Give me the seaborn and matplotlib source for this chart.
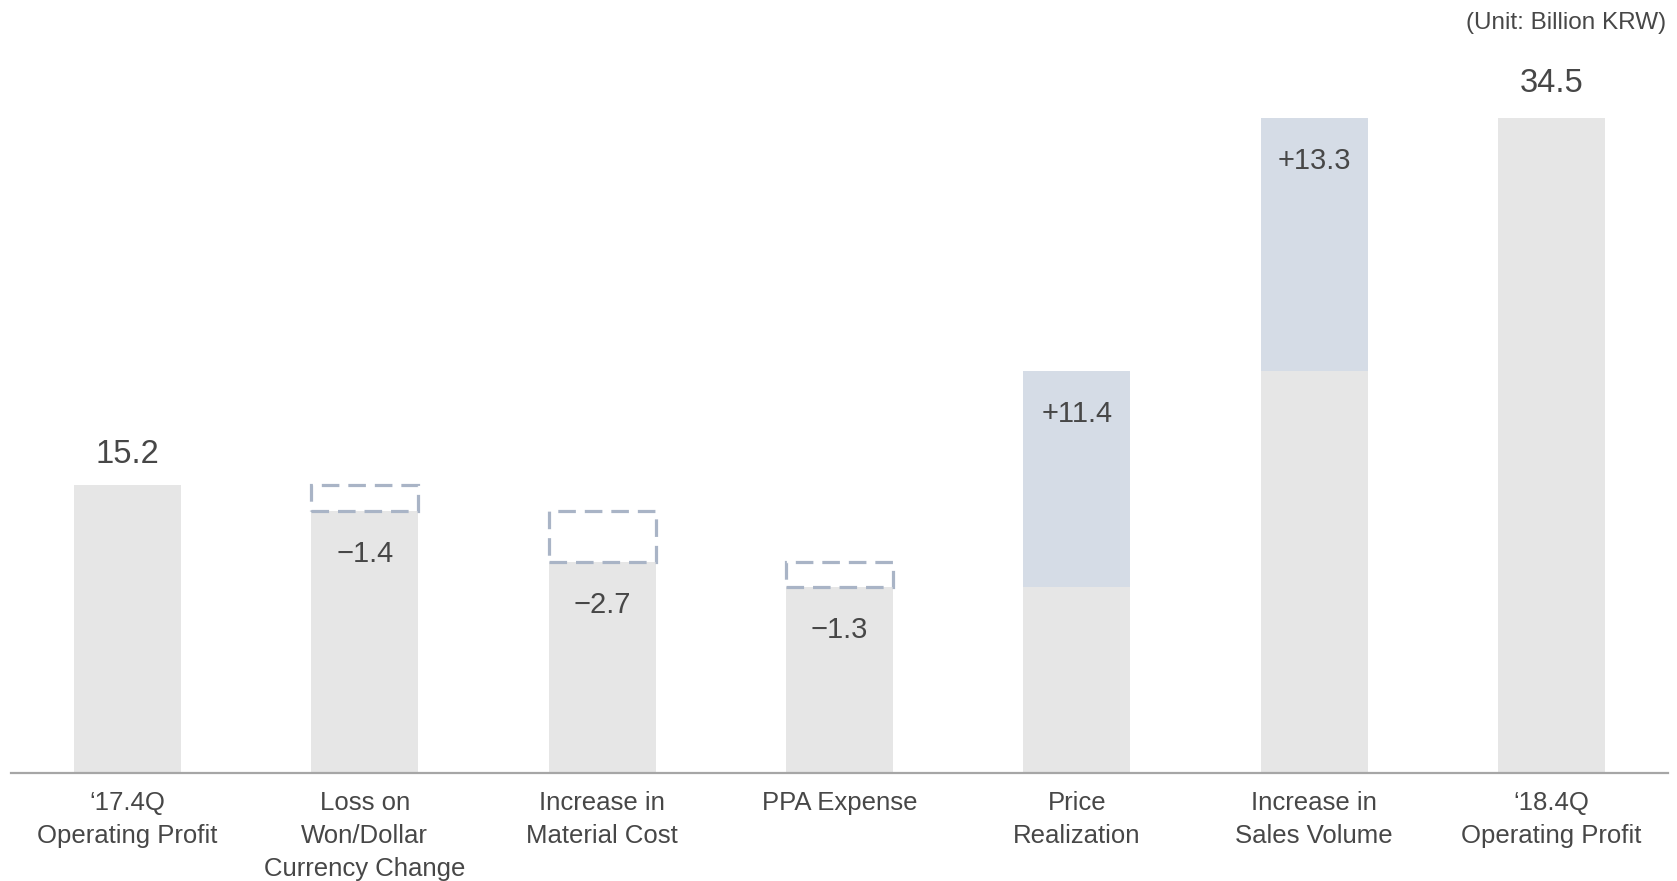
import matplotlib
matplotlib.use("Agg")
import matplotlib.pyplot as plt
import seaborn as sns
import numpy as np

# ---- data ----
start_label = "‘17.4Q\nOperating Profit"
start_value = 15.2
step_labels = [
    "Loss on\nWon/Dollar\nCurrency Change",
    "Increase in\nMaterial Cost",
    "PPA Expense",
    "Price\nRealization",
    "Increase in\nSales Volume",
]
step_changes = [-1.4, -2.7, -1.3, 11.4, 13.3]
end_label = "‘18.4Q\nOperating Profit"
end_value = 34.5
unit_text = "(Unit: Billion KRW)"

# ---- styling ----
GREY = "#E6E6E6"
BLUE = "#D5DCE6"
DASH = "#A9B4C6"
TEXT = "#474747"
AXIS = "#A6A6A6"
BAR_W = 0.45

sns.set_theme(style="white")
plt.rcParams["font.family"] = ["Liberation Sans", "DejaVu Sans"]

# ---- waterfall geometry from the data ----
categories = [start_label] + step_labels + [end_label]
base_heights = [start_value]
seg_bottoms, seg_heights, seg_pos, seg_neg_mask = [], [], [], []
level = start_value
for i, d in enumerate(step_changes, start=1):
    new_level = level + d
    base_heights.append(min(level, new_level))
    seg_bottoms.append(min(level, new_level))
    seg_heights.append(abs(d))
    seg_pos.append(i)
    seg_neg_mask.append(d < 0)
    level = new_level
base_heights.append(end_value)

seg_bottoms = np.array(seg_bottoms)
seg_heights = np.array(seg_heights)
seg_pos = np.array(seg_pos)
seg_neg_mask = np.array(seg_neg_mask)

fig = plt.figure(figsize=(16.77, 8.81), dpi=100)
ax = fig.add_axes([11 / 1677, 108 / 881, 1657 / 1677, 759 / 881])

# grey base columns
sns.barplot(x=list(range(len(categories))), y=base_heights, color=GREY,
            saturation=1, width=BAR_W, ax=ax, linewidth=0)

# positive steps: filled blue segments
ax.bar(seg_pos[~seg_neg_mask], seg_heights[~seg_neg_mask],
       bottom=seg_bottoms[~seg_neg_mask], width=BAR_W, color=BLUE, linewidth=0)

# negative steps: dashed outline boxes
ax.bar(seg_pos[seg_neg_mask], seg_heights[seg_neg_mask],
       bottom=seg_bottoms[seg_neg_mask], width=BAR_W, fill=False,
       edgecolor=DASH, linewidth=2.3, linestyle=(0, (5.5, 2.8)))

# value labels
ax.annotate(f"{start_value:.1f}", (0, start_value), xytext=(0, 21.5),
            textcoords="offset points", ha="center", va="center",
            fontsize=23.5, color=TEXT)
ax.annotate(f"{end_value:.1f}", (len(categories) - 1, end_value), xytext=(0, 25),
            textcoords="offset points", ha="center", va="center",
            fontsize=23.5, color=TEXT)
level = start_value
for i, d in enumerate(step_changes, start=1):
    level += d
    txt = f"{d:+.1f}".replace("-", "\u2212")
    ax.annotate(txt, (i, level), xytext=(0, -31), textcoords="offset points",
                ha="center", va="center", fontsize=21, color=TEXT)

# axes
ax.set_xlim(-0.49, len(categories) - 1 + 0.49)
ax.set_ylim(0, 40)
ax.set_xticks(range(len(categories)))
ax.set_xticklabels(categories, fontsize=18.5, color=TEXT, linespacing=1.47,
                   va="top", ha="center")
ax.tick_params(axis="x", length=0, pad=13)
ax.set_yticks([])
ax.set_xlabel("")
ax.set_ylabel("")
for s in ["top", "left", "right"]:
    ax.spines[s].set_visible(False)
ax.spines["bottom"].set_color(AXIS)
ax.spines["bottom"].set_linewidth(1.6)
ax.set_facecolor("white")

fig.text(1666 / 1677, 1 - 23 / 881, unit_text, ha="right", va="center",
         fontsize=17.5, color=TEXT)

fig.savefig("out.png", dpi=100, facecolor="white")
